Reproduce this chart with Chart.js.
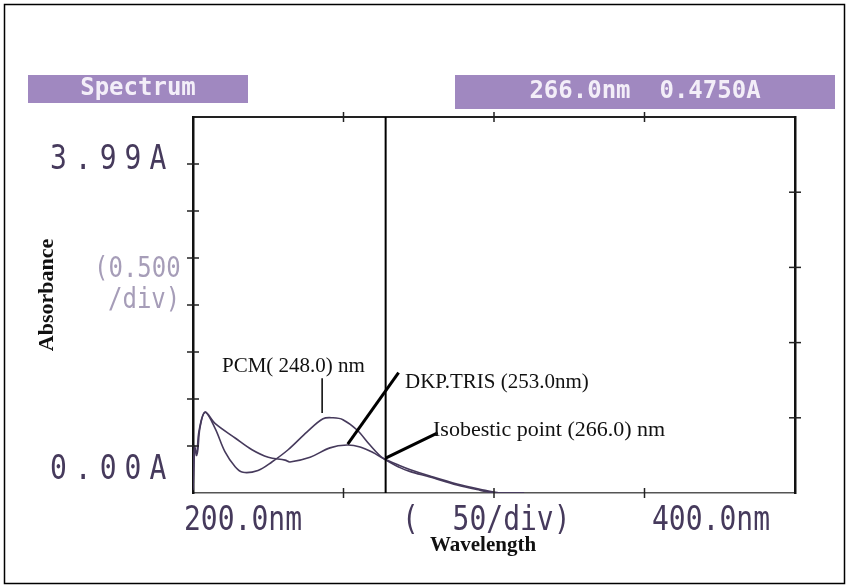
<!DOCTYPE html>
<html lang="en">
<head>
  <meta charset="UTF-8" />
  <title>Spectrum</title>
  <script src="https://cdn.jsdelivr.net/npm/chart.js"></script>
  <style>
    * { margin: 0; padding: 0; box-sizing: border-box; }
    body { background: #fff; width: 849px; height: 588px; overflow: hidden; }
    canvas { display: block; }
  </style>
</head>
<body>
  <canvas id="spec" width="849" height="588"></canvas>
  <script>
    // wavelength (nm) / absorbance (A)
    const pcmWl  = [200, 200.5, 201.2, 202, 204, 207.3, 210.6, 214, 216.6, 221.6, 226.2, 231.6, 237.9, 243.2, 246.5, 249.8, 254.5, 258.8, 263.1, 268.8, 272, 278.7, 287.7, 295.3, 300.3, 310];
    const pcmAbs = [0.05, 0.5, 0.4, 0.66, 0.86, 0.69, 0.44, 0.28, 0.22, 0.24, 0.33, 0.46, 0.65, 0.79, 0.8, 0.78, 0.67, 0.51, 0.37, 0.27, 0.23, 0.17, 0.085, 0.03, 0.0, 0.0];
    const dkpWl  = [200, 200.6, 201.4, 202.3, 204, 207.3, 214, 219.6, 225, 230.6, 232.2, 238.9, 245.5, 251.2, 255.5, 259.8, 263.1, 268.8, 272, 278.7, 287.7, 295.3, 302, 310];
    const dkpAbs = [0.03, 0.46, 0.42, 0.69, 0.86, 0.74, 0.585, 0.46, 0.38, 0.35, 0.33, 0.38, 0.48, 0.51, 0.49, 0.43, 0.37, 0.29, 0.25, 0.18, 0.095, 0.04, 0.0, 0.0];

    const xMin = 200, xMax = 400, xStep = 50;
    const yMin = 0, yMax = 4, yStep = 0.5;
    const cursorNm = 264;

    const ink = '#463a5c';

    const toPts = (xs, ys) => xs.map((x, i) => ({ x: x, y: ys[i] }));

    // printer-style label, stretched a bit taller like the scan
    function tallText(c, txt, x, y, sy) {
      c.save();
      c.translate(x, y);
      c.scale(1, sy);
      c.fillText(txt, 0, 0);
      c.restore();
    }

    const decor = {
      id: 'decor',
      beforeDraw(chart) {
        const c = chart.ctx;
        c.save();
        // outer frame
        c.strokeStyle = '#000';
        c.lineWidth = 1.5;
        c.strokeRect(4.5, 4.5, 840, 579);
        // header boxes
        c.fillStyle = '#a088c0';
        c.fillRect(28, 75, 220, 28);
        c.fillRect(455, 75, 380, 34);
        c.fillStyle = '#f3eef8';
        c.font = 'bold 24px "DejaVu Sans Mono"';
        c.textBaseline = 'middle';
        c.textAlign = 'center';
        c.fillText('Spectrum', 138, 89);
        c.fillText('266.0nm  0.4750A', 645, 92);
        c.restore();
      },
      afterDatasetsDraw(chart) {
        const c = chart.ctx;
        const x = chart.scales.x, y = chart.scales.y;
        const a = chart.chartArea;
        c.save();
        // tick marks crossing the frame
        c.strokeStyle = '#222';
        c.lineWidth = 1.5;
        const tick = (scale, horiz, at) => {
          scale.ticks.forEach(t => {
            if (t.value === scale.min || t.value === scale.max) return;
            const p = scale.getPixelForValue(t.value);
            c.beginPath();
            if (horiz) { c.moveTo(p, at - 5); c.lineTo(p, at + 5); }
            else { c.moveTo(at - 6, p); c.lineTo(at + 6, p); }
            c.stroke();
          });
        };
        tick(chart.scales.x, true, a.bottom);
        tick(chart.scales.x2, true, a.top);
        tick(chart.scales.y, false, a.left);
        tick(chart.scales.y2, false, a.right);
        // cursor line
        c.strokeStyle = '#000';
        c.lineWidth = 2;
        const cx = x.getPixelForValue(cursorNm);
        c.beginPath(); c.moveTo(cx, a.top); c.lineTo(cx, a.bottom); c.stroke();
        // annotation leaders
        c.lineWidth = 1.5;
        c.beginPath();
        c.moveTo(x.getPixelForValue(242.9), y.getPixelForValue(1.22));
        c.lineTo(x.getPixelForValue(242.9), y.getPixelForValue(0.85));
        c.stroke();
        c.lineWidth = 3;
        c.beginPath();
        c.moveTo(x.getPixelForValue(268.3), y.getPixelForValue(1.28));
        c.lineTo(x.getPixelForValue(251.4), y.getPixelForValue(0.52));
        c.stroke();
        c.beginPath();
        c.moveTo(x.getPixelForValue(281.3), y.getPixelForValue(0.64));
        c.lineTo(x.getPixelForValue(264), y.getPixelForValue(0.37));
        c.stroke();
        // annotation text
        c.fillStyle = '#111';
        c.font = '21px "Liberation Serif"';
        c.textBaseline = 'middle';
        c.fillText('PCM( 248.0) nm', 222, 366);
        c.fillText('DKP.TRIS (253.0nm)', 405, 382);
        c.font = '22px "Liberation Serif"';
        c.fillText('Isobestic point (266.0) nm', 433, 430);
        // instrument labels
        c.fillStyle = ink;
        c.font = '28px "DejaVu Sans Mono"';
        c.textAlign = 'left';
        c.letterSpacing = '8px';
        tallText(c, '3.99A', 50, 160, 1.2);
        tallText(c, '0.00A', 50, 470, 1.2);
        c.letterSpacing = '0px';
        tallText(c, '200.0nm', 184, 521, 1.2);
        tallText(c, '(  50/div)', 402, 521, 1.2);
        tallText(c, '400.0nm', 652, 521, 1.2);
        c.fillStyle = '#a69db8';
        c.font = '24px "DejaVu Sans Mono"';
        tallText(c, '(0.500', 94, 270, 1.15);
        tallText(c, '/div)', 108, 301, 1.15);
        // axis titles
        c.fillStyle = '#111';
        c.font = 'bold 21px "Liberation Serif"';
        c.textAlign = 'center';
        c.fillText('Wavelength', 483, 546);
        c.translate(47, 295);
        c.rotate(-Math.PI / 2);
        c.font = 'bold 22px "Liberation Serif"';
        c.fillText('Absorbance', 0, 0);
        c.restore();
      }
    };

    const flat = s => { s.width = 0; s.height = 0; };
    const ctx = document.getElementById('spec').getContext('2d');
    new Chart(ctx, {
      type: 'line',
      data: {
        datasets: [
          { label: 'PCM', data: toPts(pcmWl, pcmAbs), borderColor: ink, borderWidth: 1.6, pointRadius: 0, tension: 0.35, fill: false },
          { label: 'DKP.TRIS', data: toPts(dkpWl, dkpAbs), borderColor: ink, borderWidth: 1.6, pointRadius: 0, tension: 0.35, fill: false }
        ]
      },
      options: {
        responsive: false,
        animation: false,
        layout: { padding: { left: 193, top: 117, right: 54, bottom: 95 } },
        plugins: { legend: { display: false }, tooltip: { enabled: false } },
        scales: {
          x: {
            type: 'linear', position: 'bottom', min: xMin, max: xMax,
            ticks: { display: false, stepSize: xStep },
            grid: { display: false },
            border: { color: '#555', width: 1.5, dash: [6, 2] },
            afterFit: flat
          },
          x2: {
            type: 'linear', position: 'top', min: xMin, max: xMax,
            ticks: { display: false, stepSize: xStep },
            grid: { display: false },
            border: { color: '#222', width: 2 },
            afterFit: flat
          },
          y: {
            type: 'linear', position: 'left', min: yMin, max: yMax,
            ticks: { display: false, stepSize: yStep },
            grid: { display: false },
            border: { color: '#111', width: 2.5 },
            afterFit: flat
          },
          y2: {
            type: 'linear', position: 'right', min: 0, max: 5,
            ticks: { display: false, stepSize: 1 },
            grid: { display: false },
            border: { color: '#111', width: 2.5 },
            afterFit: flat
          }
        }
      },
      plugins: [decor]
    });
  </script>
</body>
</html>
